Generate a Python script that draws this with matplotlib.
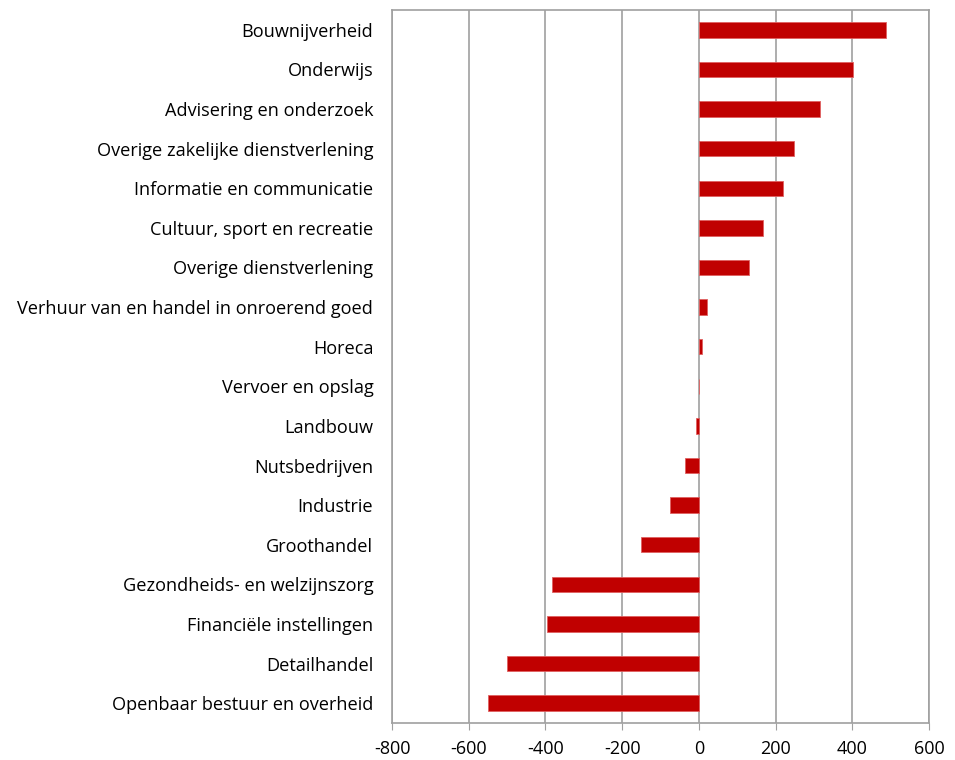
import matplotlib.pyplot as plt

sectors = [
    "Bouwnijverheid",
    "Onderwijs",
    "Advisering en onderzoek",
    "Overige zakelijke dienstverlening",
    "Informatie en communicatie",
    "Cultuur, sport en recreatie",
    "Overige dienstverlening",
    "Verhuur van en handel in onroerend goed",
    "Horeca",
    "Vervoer en opslag",
    "Landbouw",
    "Nutsbedrijven",
    "Industrie",
    "Groothandel",
    "Gezondheids- en welzijnszorg",
    "Financiële instellingen",
    "Detailhandel",
    "Openbaar bestuur en overheid",
]
values = [488, 402, 316, 247, 218, 167, 131, 20, 8, 0,
          -8, -35, -74, -151, -383, -396, -499, -551]
xticks = [-800, -600, -400, -200, 0, 200, 400, 600]

plt.rcParams['font.family'] = ['Open Sans', 'DejaVu Sans']

fig = plt.figure(figsize=(9.55, 7.6), dpi=100)
ax = fig.add_axes([0.4105, 0.0487, 0.5623, 0.9381])

pos = list(range(len(sectors)))[::-1]
ax.barh(pos, values, height=0.39, color="#C00000", edgecolor="#E06060", linewidth=0.6, zorder=3)

ax.set_xlim(-800, 600)
ax.set_ylim(-0.5, len(sectors) - 0.5)
ax.set_xticks(xticks)
ax.set_xticklabels([str(t) for t in xticks], fontsize=13)
ax.set_yticks(pos)
ax.set_yticklabels(sectors, fontsize=13.1)
ax.tick_params(axis="y", length=0, pad=13.5)
ax.tick_params(axis="x", length=5, color="#a0a0a0", direction="out", pad=7)

ax.grid(axis="x", color="#a0a0a0", linewidth=1.2, zorder=0)
for s in ax.spines.values():
    s.set_color("#a0a0a0")
    s.set_linewidth(1.2)

fig.savefig("out.png", dpi=100)
